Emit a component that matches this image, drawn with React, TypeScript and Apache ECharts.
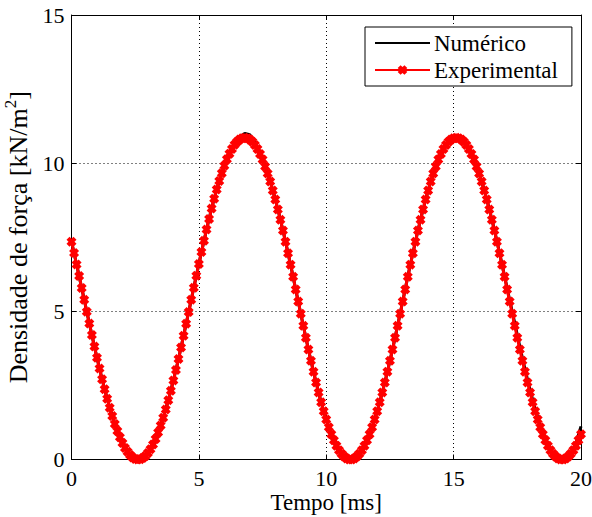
import React, { useEffect, useRef } from "react";
import * as echarts from "echarts";

const EXP_STEP_MS = 0.1;
const NUM_STEP_MS = 0.2;

// Experimental (red, x markers), sampled every 0.1 ms from 0 to 20 ms
const experimental: number[] = [
  7.35, 6.97, 6.58, 6.19, 5.79, 5.39, 4.99, 4.59, 4.2, 3.81, 3.43, 3.07, 2.71, 2.37, 2.05, 1.75, 1.47, 1.2, 0.96, 0.75,
  0.56, 0.39, 0.26, 0.15, 0.07, 0.02, 0.0,
  0.01, 0.05, 0.12, 0.22, 0.35, 0.51, 0.69, 0.91, 1.15, 1.41, 1.69, 2.0, 2.32, 2.67, 3.02, 3.39, 3.78, 4.18, 4.58, 4.98,
  5.39, 5.8, 6.2, 6.6, 7.0, 7.38, 7.76, 8.12, 8.47, 8.8, 9.11, 9.4, 9.66, 9.91, 10.13, 10.32, 10.48, 10.62, 10.72, 10.8,
  10.84, 10.86,
  10.84, 10.8, 10.72, 10.61, 10.48, 10.31, 10.12, 9.89, 9.65, 9.38, 9.08, 8.77, 8.44, 8.09, 7.73, 7.35, 6.96, 6.57, 6.17,
  5.74, 5.33, 4.92, 4.51, 4.11, 3.71, 3.33, 2.96, 2.6, 2.26, 1.93, 1.63, 1.35, 1.09, 0.85, 0.65, 0.46, 0.31, 0.19, 0.1,
  0.03, 0.0,
  0.0, 0.03, 0.1, 0.19, 0.31, 0.46, 0.65, 0.85, 1.09, 1.35, 1.63, 1.93, 2.26, 2.6, 2.96, 3.33, 3.71, 4.11, 4.51, 4.92,
  5.33, 5.74, 6.17, 6.57, 6.96, 7.35, 7.73, 8.09, 8.44, 8.77, 9.08, 9.38, 9.65, 9.89, 10.12, 10.31, 10.48, 10.61, 10.72,
  10.8, 10.84, 10.86,
  10.84, 10.8, 10.72, 10.61, 10.48, 10.31, 10.12, 9.89, 9.65, 9.38, 9.08, 8.77, 8.44, 8.09, 7.73, 7.35, 6.96, 6.57, 6.17,
  5.74, 5.33, 4.92, 4.51, 4.11, 3.71, 3.33, 2.96, 2.6, 2.26, 1.93, 1.63, 1.35, 1.09, 0.85, 0.65, 0.46, 0.31, 0.19, 0.1,
  0.03, 0.0,
  0.0, 0.03, 0.1, 0.19, 0.31, 0.46, 0.65, 0.85,
];

// Numérico (black line), sampled every 0.2 ms from 0 to 20 ms
const numerico: number[] = [
  7.35, 6.58, 5.79, 4.99, 4.2, 3.43, 2.71, 2.05, 1.47, 0.96, 0.56, 0.26, 0.07, 0.0,
  0.05, 0.22, 0.51, 0.91, 1.41, 2.0, 2.67, 3.39, 4.18, 4.98, 5.8, 6.6, 7.38, 8.12, 8.8, 9.4, 9.91, 10.34, 10.68, 10.9,
  11.0,
  10.96, 10.7, 10.36, 9.92, 9.4, 8.78, 8.1, 7.36, 6.57, 5.74, 4.92, 4.11, 3.33, 2.6, 1.93, 1.35, 0.85, 0.46, 0.19, 0.03,
  0.0, 0.1, 0.31, 0.65, 1.09, 1.63, 2.26, 2.96, 3.71, 4.51, 5.33, 6.17, 6.96, 7.73, 8.44, 9.08, 9.65, 10.12, 10.48, 10.74,
  10.9,
  10.92, 10.78, 10.52, 10.14, 9.66, 9.1, 8.46, 7.75, 6.98, 6.19, 5.38, 4.6, 3.8, 3.05, 2.35, 1.7, 1.15, 0.68, 0.33, 0.11,
  0.0, 0.04, 0.2, 0.55, 1.12,
];

const xTickInterval = 5;
const yTickInterval = 5;
const xRange = [0, 20];
const yRange = [0, 15];

const FONT = "Liberation Serif";
const X_SYMBOL =
  "path://M0,3 L3,0 L5,2 L7,0 L10,3 L8,5 L10,7 L7,10 L5,8 L3,10 L0,7 L2,5 Z";

export default function App() {
  const ref = useRef<HTMLDivElement>(null);
  useEffect(() => {
    if (!ref.current) return;
    const chart = echarts.init(ref.current, undefined, { renderer: "svg" });
    const expData = experimental.map((v, i) => [+(i * EXP_STEP_MS).toFixed(2), v]);
    const numData = numerico.map((v, i) => [+(i * NUM_STEP_MS).toFixed(2), v]);
    const axisLabel = { color: "#000", fontFamily: FONT, fontSize: 22 };
    const tick = { show: true, inside: true, length: 5, lineStyle: { color: "#000", width: 1 } };
    const axisLine = { show: true, onZero: false, lineStyle: { color: "#000", width: 1 } };
    const split = { show: true, lineStyle: { color: "#000", width: 1, type: [1, 3] as any } };
    chart.setOption({
      animation: false,
      backgroundColor: "#fff",
      grid: {
        left: 71.5,
        right: 11,
        top: 15,
        bottom: 57.5,
        containLabel: false,
        outerBoundsMode: "none",
      },
      legend: {
        orient: "vertical",
        left: 365,
        top: 27,
        padding: [4, 14, 4, 9],
        itemGap: 3,
        itemWidth: 55,
        itemHeight: 12,
        backgroundColor: "#fff",
        borderColor: "#000",
        borderWidth: 1,
        borderRadius: 0,
        textStyle: { color: "#000", fontFamily: FONT, fontSize: 23, lineHeight: 24, padding: [0, 0, 0, -1] },
        data: [
          { name: "Numérico", itemStyle: { opacity: 0 } },
          { name: "Experimental" },
        ],
      },
      xAxis: [
        {
          type: "value",
          min: xRange[0],
          max: xRange[1],
          interval: xTickInterval,
          position: "bottom",
          name: "Tempo [ms]",
          nameLocation: "middle",
          nameGap: 31,
          nameMoveOverlap: false,
          nameTextStyle: { color: "#000", fontFamily: FONT, fontSize: 23 },
          axisLine,
          axisTick: tick,
          axisLabel: { ...axisLabel, margin: 8 },
          splitLine: split,
        },
        {
          type: "value",
          min: xRange[0],
          max: xRange[1],
          interval: xTickInterval,
          position: "top",
          axisLine,
          axisTick: tick,
          axisLabel: { show: false },
          splitLine: { show: false },
        },
      ],
      yAxis: [
        {
          type: "value",
          min: yRange[0],
          max: yRange[1],
          interval: yTickInterval,
          position: "left",
          name: "Densidade de força [kN/m{sup|2}]",
          nameLocation: "middle",
          nameGap: 37,
          nameMoveOverlap: false,
          nameTextStyle: {
            color: "#000",
            fontFamily: FONT,
            fontSize: 26,
            rich: { sup: { color: "#000", fontFamily: FONT, fontSize: 17, padding: [0, 0, 16, 0] } },
          },
          axisLine,
          axisTick: tick,
          axisLabel: { ...axisLabel, margin: 7 },
          splitLine: split,
        },
        {
          type: "value",
          min: yRange[0],
          max: yRange[1],
          interval: yTickInterval,
          position: "right",
          axisLine,
          axisTick: tick,
          axisLabel: { show: false },
          splitLine: { show: false },
        },
      ],
      series: [
        {
          name: "Numérico",
          type: "line",
          data: numData,
          symbol: "none",
          lineStyle: { color: "#000", width: 3 },
          itemStyle: { color: "#000" },
          z: 2,
        },
        {
          name: "Experimental",
          type: "line",
          data: expData,
          symbol: X_SYMBOL,
          symbolSize: 10,
          showSymbol: true,
          showAllSymbol: true,
          lineStyle: { color: "#ff0000", width: 3 },
          itemStyle: { color: "#ff0000" },
          z: 3,
        },
      ],
    });
    return () => chart.dispose();
  }, []);
  return (
    <div
      ref={ref}
      style={{ position: "fixed", left: 0, top: 0, width: 592, height: 517, background: "#fff" }}
    />
  );
}
